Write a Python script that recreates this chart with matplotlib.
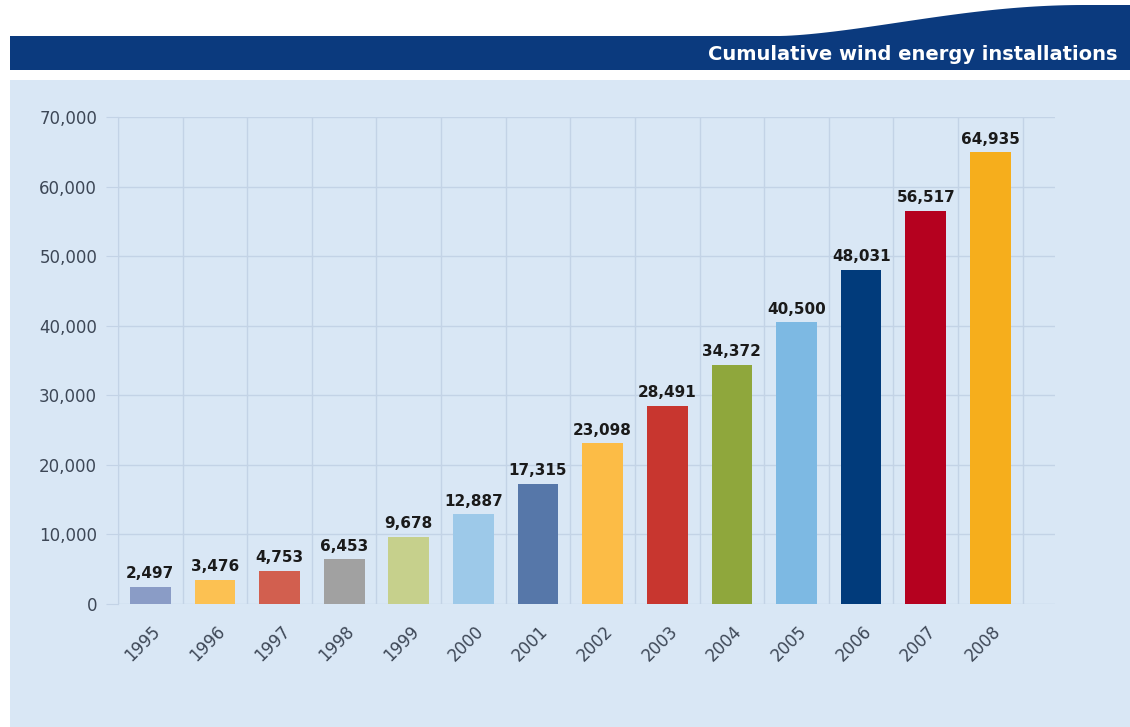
import matplotlib
matplotlib.use("Agg")
import matplotlib.pyplot as plt
from matplotlib.patches import Polygon, Rectangle
from matplotlib.transforms import offset_copy
import numpy as np

years = ["1995", "1996", "1997", "1998", "1999", "2000", "2001",
         "2002", "2003", "2004", "2005", "2006", "2007", "2008"]
values = [2497, 3476, 4753, 6453, 9678, 12887, 17315,
          23098, 28491, 34372, 40500, 48031, 56517, 64935]
bar_colors = ["#8a9cc6", "#fcc152", "#d25f4f", "#a1a1a1", "#c6d08c", "#9dc9e9",
              "#5677a9", "#fcbc46", "#c8362f", "#8fa73c", "#7db9e3", "#013b7b",
              "#b5011f", "#f6ae1c"]
title = "Cumulative wind energy installations"

W, H = 1130, 727
fig = plt.figure(figsize=(W / 100, H / 100), dpi=100)
fig.patch.set_facecolor("white")

# background decoration axes in pixel coords
bg = fig.add_axes([0, 0, 1, 1], zorder=0)
bg.set_xlim(0, W)
bg.set_ylim(H, 0)
bg.axis("off")

navy = "#0b3a7e"
xs = np.linspace(780, W, 60)
t = (xs - 780) / (W - 780)
wave_top = 36 - 31 * (np.sin(np.clip(t * 1.15, 0, 1) * np.pi / 2) ** 1.5)
pts = [(10, 70), (10, 36)] + list(zip(xs, wave_top)) + [(W, 70)]
bg.add_patch(Polygon(pts, closed=True, facecolor=navy, edgecolor="none"))
bg.add_patch(Rectangle((10, 80), W - 10, H - 80, facecolor="#d9e7f5", edgecolor="none"))
bg.text(1118, 54, title, color="white", fontsize=14, fontweight="bold",
        family="DejaVu Sans", ha="right", va="center")

# main axes
left, right = 118 / W, 1055 / W
bottom, top = (H - 604) / H, (H - 117) / H
ax = fig.add_axes([left, bottom, right - left, top - bottom], zorder=1)
ax.set_facecolor("none")
x = np.arange(len(years))
ax.set_xlim(-0.5, 14.0)
ax.set_ylim(0, 70000)

grid_c = "#c3d3e6"
for b in np.arange(-0.5, 14.0, 1.0):
    ax.axvline(b, color=grid_c, lw=1, zorder=0)
ax.set_yticks(np.arange(0, 70001, 10000))
ax.yaxis.grid(True, color=grid_c, lw=1, zorder=0)
ax.set_axisbelow(True)

ax.bar(x, values, width=0.63, color=bar_colors, zorder=2)
for xi, v in zip(x, values):
    ax.annotate(f"{v:,}", (xi, v), xytext=(0, 4), textcoords="offset points",
                ha="center", va="bottom", fontsize=11, fontweight="bold",
                color="#1a1a1a", family="DejaVu Sans")

for s in ["top", "right", "bottom"]:
    ax.spines[s].set_visible(False)
ax.spines["left"].set_color(grid_c)
ax.set_yticklabels([f"{int(v):,}" for v in ax.get_yticks()])
ax.tick_params(axis="y", length=9, color=grid_c, pad=6, labelsize=12,
               labelcolor="#3d4756")
ax.set_xticks(x)
ax.set_xticklabels(years)
ax.tick_params(axis="x", length=0, pad=13, labelsize=12, labelcolor="#3d4756")
for lab in ax.get_xticklabels():
    lab.set_rotation(45)
    lab.set_ha("right")
    lab.set_va("top")
    lab.set_rotation_mode("anchor")
    lab.set_transform(offset_copy(lab.get_transform(), fig=fig, x=1, y=0, units="dots"))

fig.savefig("out.png", dpi=100, facecolor=fig.get_facecolor())
